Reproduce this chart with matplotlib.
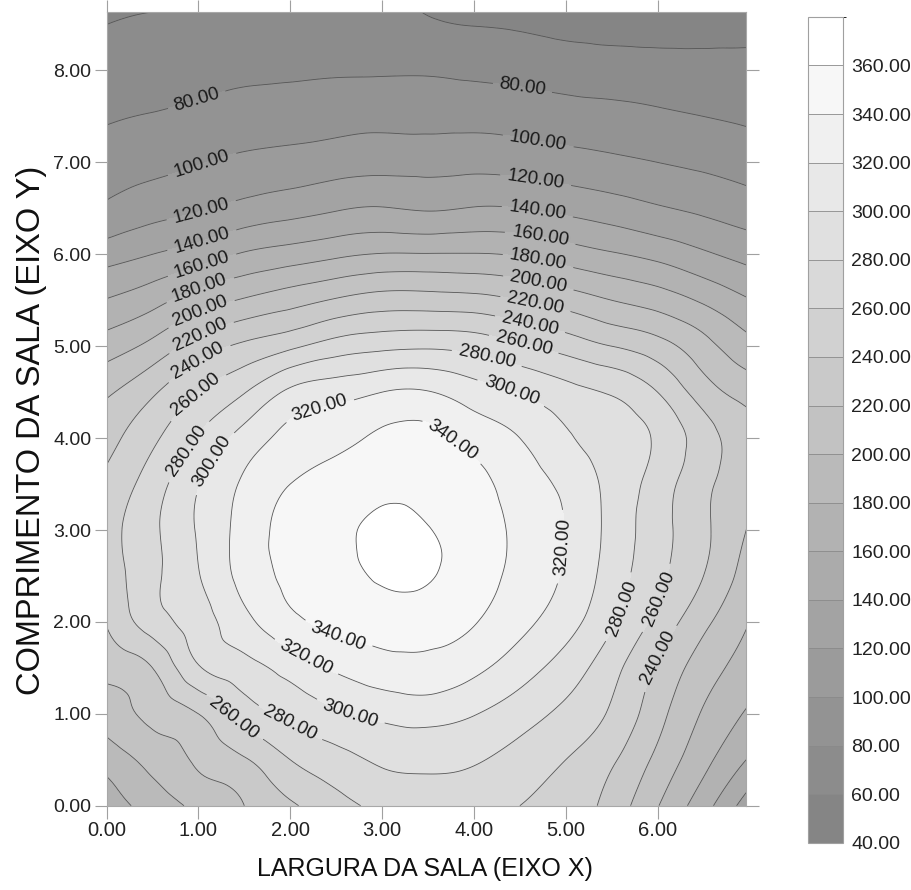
import matplotlib
matplotlib.use('Agg')
import matplotlib.pyplot as plt
import matplotlib.tri as mtri
import numpy as np
from matplotlib.colors import LinearSegmentedColormap, BoundaryNorm

# grid positions (m)
eixo_x = [0.0, 0.5, 1.0, 1.5, 2.0, 2.5, 3.0, 3.5, 4.0, 4.5, 5.0, 5.5, 6.0, 6.5, 7.0]
eixo_y = [0.0, 0.5, 1.0, 1.5, 2.0, 2.5, 3.0, 3.5, 4.0, 4.5, 5.0, 5.5, 6.0, 6.5,
          7.0, 7.5, 8.0, 8.5, 9.0]

# values, one row per y (bottom to top)
valores = [
    [170, 188, 205, 220, 237, 253, 265, 271, 268, 260, 252, 232, 201, 168, 128],
    [188, 207, 223, 238, 260, 273, 283, 285, 282, 272, 260, 243, 215, 186, 158],
    [209, 225, 240, 269, 285, 297, 305, 308, 301, 289, 275, 257, 227, 198, 177],
    [227, 240, 278, 293, 308, 323, 332, 334, 325, 309, 291, 267, 237, 210, 190],
    [241, 270, 291, 314, 335, 345, 349, 348, 341, 326, 308, 283, 254, 225, 200],
    [250, 275, 299, 327, 344, 352, 363, 362, 348, 335, 317, 291, 265, 240, 210],
    [252, 276, 302, 328, 346, 354, 366, 361, 349, 336, 319, 294, 268, 244, 218],
    [245, 270, 299, 323, 340, 347, 353, 353, 346, 331, 315, 294, 271, 245, 230],
    [233, 256, 282, 308, 326, 335, 343, 345, 333, 320, 303, 291, 277, 249, 228],
    [217, 237, 260, 279, 304, 312, 320, 321, 309, 299, 287, 278, 260, 230, 212],
    [190, 206, 229, 244, 256, 269, 275, 277, 273, 263, 252, 240, 228, 207, 186],
    [161, 173, 190, 202, 212, 222, 229, 229, 227, 220, 211, 200, 191, 177, 161],
    [131, 140, 150, 162, 169, 176, 181, 181, 181, 178, 170, 162, 154, 143, 133],
    [103, 112, 118, 126, 132, 138, 141, 138, 141, 140, 135, 129, 122, 116, 109],
    [90, 94, 99, 104, 107, 111, 113, 113, 114, 112, 108, 104, 100, 96, 91],
    [78, 81, 84, 88, 90, 92, 94, 93, 93, 91, 88, 86, 83, 80, 77],
    [69, 71, 74, 76, 77, 78, 78, 78, 76, 74, 71, 69, 68, 67, 66],
    [60, 62, 63, 65, 67, 67, 66, 62, 59.5, 58, 55, 54, 53, 53, 54],
    [55, 56, 57, 59, 61, 61, 60, 57, 53, 52, 49, 48, 47, 47, 48],
]

niveis = [40, 60, 80, 100, 120, 140, 160, 180, 200, 220, 240, 260, 280, 300,
          320, 340, 360, 380]

X, Y = np.meshgrid(eixo_x, eixo_y)
Z = np.array(valores, dtype=float)

# regular triangulation of the grid, then a smooth refinement for the contours
nx, ny = len(eixo_x), len(eixo_y)
tris = []
for j in range(ny - 1):
    for i in range(nx - 1):
        p = j * nx + i
        tris.append([p, p + 1, p + nx + 1])
        tris.append([p, p + nx + 1, p + nx])
triang = mtri.Triangulation(X.ravel(), Y.ravel(), tris)
interp = mtri.CubicTriInterpolator(triang, Z.ravel(), kind='min_E')
refinador = mtri.UniformTriRefiner(triang)
tri_fino, z_fino = refinador.refine_field(Z.ravel(), triinterpolator=interp, subdiv=4)

fig = plt.figure(figsize=(9.11, 8.90), dpi=100)
ax = fig.add_axes([0.117, 0.0947, 0.7016, 0.8922])
cax = fig.add_axes([0.887, 0.053, 0.038, 0.928])

cinza = LinearSegmentedColormap.from_list('cinza', [(0.52, 0.52, 0.52), (1, 1, 1)])
norma = BoundaryNorm(niveis, cinza.N)

cf = ax.tricontourf(tri_fino, z_fino, levels=niveis, cmap=cinza, norm=norma)
cs = ax.tricontour(tri_fino, z_fino, levels=niveis, colors='#555555', linewidths=0.6)

# label placement (layout only)
pos_rotulos = [
    (1.0, 7.62), (1.05, 6.95), (1.03, 6.48), (1.04, 6.14), (1.04, 5.88),
    (1.02, 5.61), (1.03, 5.36), (1.03, 5.10), (1.0, 4.83), (0.96, 4.49),
    (0.87, 3.87), (1.18, 3.72), (2.31, 4.34),
    (4.52, 7.76), (4.70, 7.23), (4.67, 6.79), (4.69, 6.46), (4.72, 6.17),
    (4.70, 5.94), (4.70, 5.68), (4.67, 5.46), (4.61, 5.23), (4.54, 5.01),
    (4.14, 4.87), (4.41, 4.51), (3.79, 4.0),
    (4.90, 2.82), (5.61, 2.15), (5.99, 2.26), (6.08, 1.57),
    (2.53, 1.88), (2.16, 1.59), (2.65, 1.0), (2.0, 0.9), (1.36, 0.93),
]
rot = ax.clabel(cs, fmt='%.2f', fontsize=13.5, inline=True, inline_spacing=3,
                manual=pos_rotulos)
for t in rot:
    t.set_color('#1a1a1a')
    t.set_family('Liberation Sans')

ax.set_xlim(0, 6.96)
ax.set_ylim(0, 8.64)
ax.set_xticks([0, 1, 2, 3, 4, 5, 6])
ax.set_yticks([0, 1, 2, 3, 4, 5, 6, 7, 8])
ax.xaxis.set_major_formatter(matplotlib.ticker.FormatStrFormatter('%.2f'))
ax.yaxis.set_major_formatter(matplotlib.ticker.FormatStrFormatter('%.2f'))
ax.tick_params(direction='out', length=9, width=0.8, color='#a0a0a0',
               top=True, right=True, labelcolor='#222222')
ax.tick_params(axis='y', labelsize=14, pad=2)
ax.tick_params(axis='x', labelsize=14.5, pad=2)
for lb in ax.get_xticklabels() + ax.get_yticklabels():
    lb.set_family('Liberation Sans')
for s in ax.spines.values():
    s.set_color('#a8a8a8')
    s.set_linewidth(0.8)

ax.set_xlabel('LARGURA DA SALA (EIXO X)', fontsize=18,
              family='Liberation Sans', color='#111111')
ax.set_ylabel('COMPRIMENTO DA SALA (EIXO Y)', fontsize=23.5,
              family='Liberation Sans', color='#111111')
ax.xaxis.set_label_coords(0.498, -0.064)
ax.yaxis.set_label_coords(-0.094, 0.473)

cb = fig.colorbar(cf, cax=cax, ticks=niveis[:-1], drawedges=True,
                  format='%.2f')
cb.outline.set_edgecolor('#a0a0a0')
cb.outline.set_linewidth(0.8)
cb.dividers.set_color('#8a8a8a')
cb.dividers.set_linewidth(0.6)
cax.tick_params(length=0, labelsize=14, pad=6, labelcolor='#222222')
for lb in cax.get_yticklabels():
    lb.set_family('Liberation Sans')

fig.savefig('out.png', dpi=100)
